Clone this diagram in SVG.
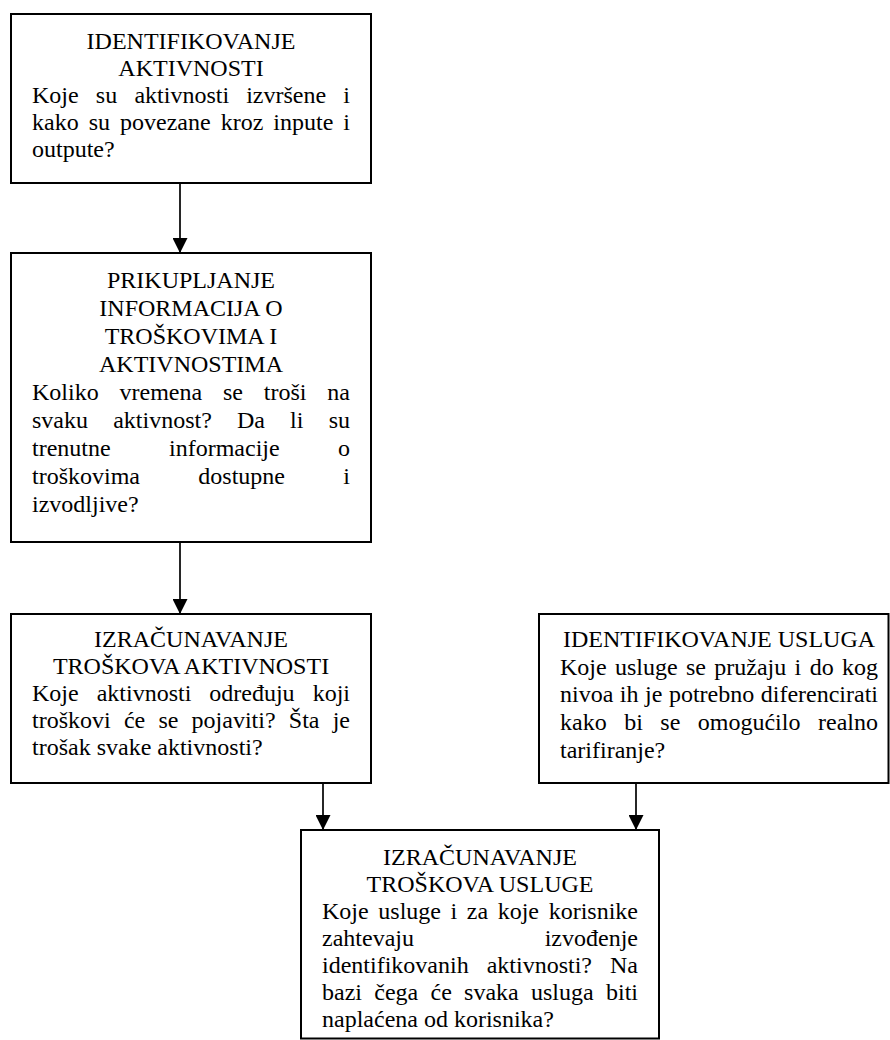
<svg xmlns="http://www.w3.org/2000/svg" width="890" height="1040" viewBox="0 0 890 1040">
<style>
.box{fill:#fff;stroke:#000;stroke-width:2}
.t{font-family:"Liberation Serif","Times New Roman",serif;font-size:24px;fill:#000}
.c{text-anchor:middle}
.e{text-anchor:end}
.conn{stroke:#000;stroke-width:1.7;fill:none;marker-end:url(#ah)}
</style>
<defs>
<marker id="ah" markerUnits="userSpaceOnUse" markerWidth="15" markerHeight="15" refX="15" refY="7.5" orient="auto" viewBox="0 0 15 15">
<path d="M0,0 L15,7.5 L0,15 Z" fill="#000"/>
</marker>
</defs>
<g id="connectors">
<line class="conn" x1="180" y1="184" x2="180" y2="253"/>
<line class="conn" x1="180" y1="543" x2="180" y2="614"/>
<line class="conn" x1="323" y1="783" x2="323" y2="830"/>
<line class="conn" x1="636" y1="783" x2="636" y2="830"/>
</g>
<g id="n1">
<rect class="box" x="11" y="14" width="360" height="169"/>
<text class="t c" x="191" y="49">IDENTIFIKOVANJE</text>
<text class="t c" x="191" y="76">AKTIVNOSTI</text>
<text class="t" y="103"><tspan x="32">Koje</tspan><tspan x="95.8">su</tspan><tspan x="134.4">aktivnosti</tspan><tspan x="246.2">izvršene</tspan></text><text class="t e" x="350" y="103">i</text>
<text class="t" y="130"><tspan x="32">kako</tspan><tspan x="88.7">su</tspan><tspan x="120">povezane</tspan><tspan x="220.7">kroz</tspan><tspan x="273.3">inpute</tspan></text><text class="t e" x="350" y="130">i</text>
<text class="t" x="32" y="157">outpute?</text>
</g>
<g id="n2">
<rect class="box" x="11" y="253" width="360" height="289"/>
<text class="t c" x="191" y="288">PRIKUPLJANJE</text>
<text class="t c" x="191" y="316">INFORMACIJA O</text>
<text class="t c" x="191" y="344">TROŠKOVIMA I</text>
<text class="t c" x="191" y="372">AKTIVNOSTIMA</text>
<text class="t" y="400"><tspan x="32">Koliko</tspan><tspan x="119.5">vremena</tspan><tspan x="223">se</tspan><tspan x="263.8">troši</tspan></text><text class="t e" x="350" y="400">na</text>
<text class="t" y="428"><tspan x="32">svaku</tspan><tspan x="113.2">aktivnost?</tspan><tspan x="237">Da</tspan><tspan x="290.1">li</tspan></text><text class="t e" x="350" y="428">su</text>
<text class="t" y="456"><tspan x="32">trenutne</tspan><tspan x="169">informacije</tspan></text><text class="t e" x="350" y="456">o</text>
<text class="t" y="484"><tspan x="32">troškovima</tspan><tspan x="198.3">dostupne</tspan></text><text class="t e" x="350" y="484">i</text>
<text class="t" x="32" y="512">izvodljive?</text>
</g>
<g id="n3">
<rect class="box" x="11" y="614" width="360" height="169"/>
<text class="t c" x="191" y="647">IZRAČUNAVANJE</text>
<text class="t c" x="191" y="674">TROŠKOVA AKTIVNOSTI</text>
<text class="t" y="701"><tspan x="32">Koje</tspan><tspan x="96.7">aktivnosti</tspan><tspan x="209.3">određuju</tspan></text><text class="t e" x="350" y="701">koji</text>
<text class="t" y="728"><tspan x="32">troškovi</tspan><tspan x="123.9">će</tspan><tspan x="158.4">se</tspan><tspan x="191.6">pojaviti?</tspan><tspan x="288.8">Šta</tspan></text><text class="t e" x="350" y="728">je</text>
<text class="t" x="32" y="755">trošak svake aktivnosti?</text>
</g>
<g id="n4">
<rect class="box" x="539" y="614" width="349.5" height="169"/>
<text class="t c" x="719" y="647">IDENTIFIKOVANJE USLUGA</text>
<text class="t" y="674.7"><tspan x="560">Koje</tspan><tspan x="615">usluge</tspan><tspan x="686">se</tspan><tspan x="714.3">pružaju</tspan><tspan x="794.6">i</tspan><tspan x="809.7">do</tspan></text><text class="t e" x="878" y="674.7">kog</text>
<text class="t" y="702.4"><tspan x="560">nivoa</tspan><tspan x="619.8">ih</tspan><tspan x="645">je</tspan><tspan x="668.9">potrebno</tspan></text><text class="t e" x="878" y="702.4">diferencirati</text>
<text class="t" y="730.1"><tspan x="560">kako</tspan><tspan x="624.2">bi</tspan><tspan x="660.3">se</tspan><tspan x="697.8">omogućilo</tspan></text><text class="t e" x="878" y="730.1">realno</text>
<text class="t" x="560" y="757.8">tarifiranje?</text>
</g>
<g id="n5">
<rect class="box" x="301" y="830" width="358" height="208.5"/>
<text class="t c" x="480" y="865">IZRAČUNAVANJE</text>
<text class="t c" x="480" y="892">TROŠKOVA USLUGE</text>
<text class="t" y="919"><tspan x="322">Koje</tspan><tspan x="378.3">usluge</tspan><tspan x="450.5">i</tspan><tspan x="466.8">za</tspan><tspan x="497.7">koje</tspan></text><text class="t e" x="638" y="919">korisnike</text>
<text class="t" x="322" y="946">zahtevaju</text><text class="t e" x="638" y="946">izvođenje</text>
<text class="t" y="973"><tspan x="322">identifikovanih</tspan><tspan x="486.7">aktivnosti?</tspan></text><text class="t e" x="638" y="973">Na</text>
<text class="t" y="1000"><tspan x="322">bazi</tspan><tspan x="374.3">čega</tspan><tspan x="430.5">će</tspan><tspan x="464.1">svaka</tspan><tspan x="531">usluga</tspan></text><text class="t e" x="638" y="1000">biti</text>
<text class="t" x="322" y="1027">naplaćena od korisnika?</text>
</g>
</svg>
